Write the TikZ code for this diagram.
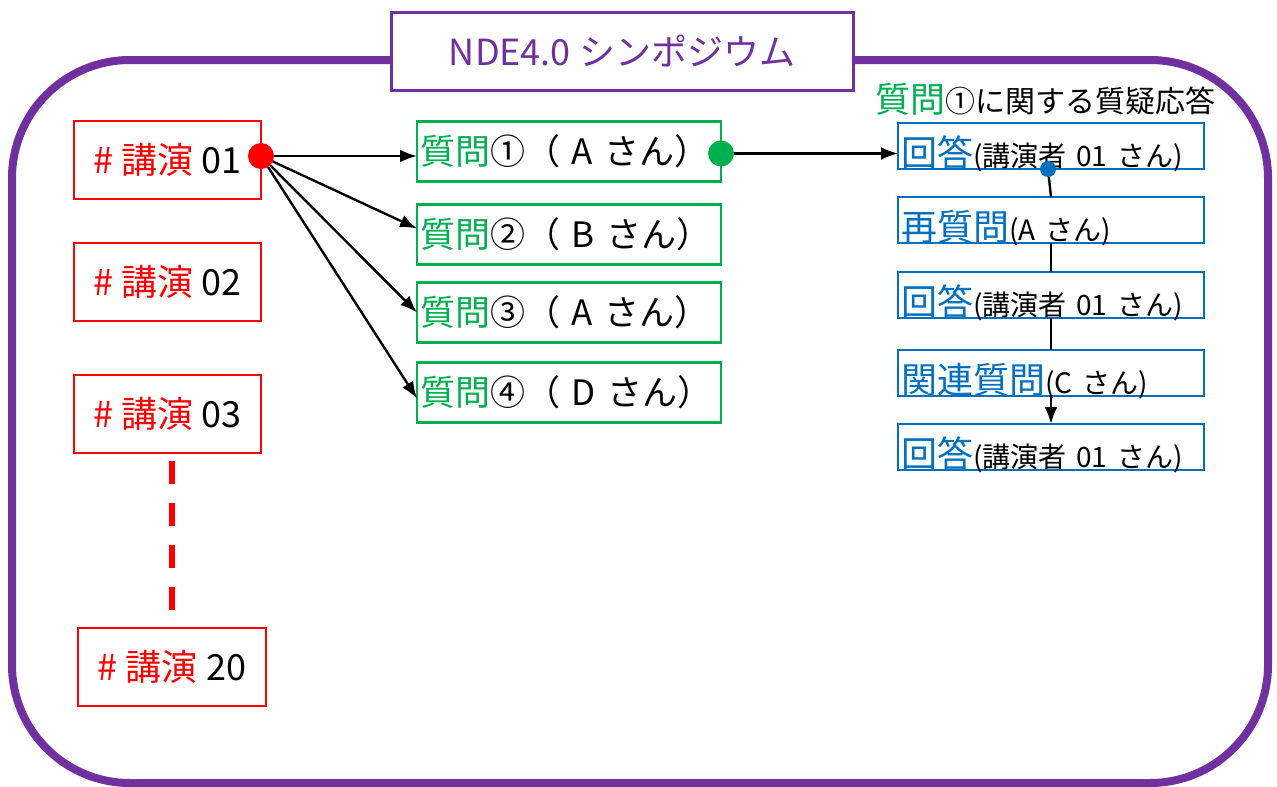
\documentclass[tikz,border=0pt]{standalone}
\usepackage{fontspec}
\setmainfont{Noto Sans CJK JP}
\usetikzlibrary{positioning,arrows.meta}
\definecolor{symppurple}{HTML}{7030A0}
\definecolor{talkred}{HTML}{FF0000}
\definecolor{qgreen}{HTML}{00B050}
\definecolor{ansblue}{HTML}{0070C0}
\tikzstyle{talk}=[rectangle,draw=talkred,line width=2.5pt,outer sep=0pt,
minimum width=187pt,minimum height=78pt,inner sep=0pt,font=\fontsize{36pt}{40pt}\selectfont]
\tikzstyle{question}=[rectangle,draw=qgreen,line width=2.5pt,outer sep=0pt,minimum height=60pt,
text width=298pt,inner xsep=3pt,inner ysep=0pt,align=left,font=\fontsize{35pt}{40pt}\selectfont]
\tikzstyle{answer}=[rectangle,draw=ansblue,line width=2.5pt,outer sep=0pt,text width=300pt,
inner xsep=3pt,inner ysep=0pt,text height=43pt,text depth=3pt,align=left]
\tikzstyle{dot}=[circle,inner sep=0pt,outer sep=0pt]
\tikzstyle{link}=[-{Latex[length=17pt,width=13pt]},line width=2.4pt]
\tikzstyle{plainlink}=[line width=2.4pt]
\newcommand{\talkno}[1]{\textcolor{talkred}{\# 講演} #1}
\newcommand{\quest}[1]{\textcolor{qgreen}{質問}#1}
\newcommand{\reply}[2]{{\fontsize{36pt}{40pt}\selectfont\textcolor{ansblue}{#1}}{\fontsize{28pt}{32pt}\selectfont #2}}
\newcommand{\wsp}{\hspace{0.35em}}

\begin{document}
\begin{tikzpicture}[x=1pt,y=-1pt]
            \useasboundingbox (0,0) rectangle (1277,787);

            % frame and title
            \draw[symppurple,line width=8pt,rounded corners=118pt] (12,60) rectangle (1268,783);
            \node[rectangle,draw=symppurple,line width=3pt,fill=white,minimum width=462pt,
                  minimum height=78pt,text=symppurple,font=\fontsize{36pt}{40pt}\selectfont] (title) at (622,51) {NDE4.0 シンポジウム};

            % TALKS
            \node[talk] (r1) at (167.5,160) {\talkno{01}};
            \node[talk,below=44pt of r1] (r2) {\talkno{02}};
            \node[talk,below=54pt of r2] (r3) {\talkno{03}};
            \node[talk,minimum width=188pt] (r20) at (172,667) {\talkno{20}};

            \coordinate (gaptop) at (r20.north |- r3.south);
            \draw[talkred,line width=6pt,dash pattern=on 23pt off 19pt] ([yshift=-8pt]gaptop) -- ([yshift=18pt]r20.north);

            % QUESTIONS
            \node[question] (q1) at (569,151.5) {\quest{①（ A さん）}};
            \node[question,below=23pt of q1] (q2) {\quest{②（ B さん）}};
            \node[question,below=18pt of q2] (q3) {\quest{③（ A さん）}};
            \node[question,below=20pt of q3] (q4) {\quest{④（ D さん）}};

            % ANSWERS
            \node[anchor=base west,font=\fontsize{30pt}{34pt}\selectfont] (head) at (872,112)
                 {{\fontsize{35pt}{40pt}\selectfont\textcolor{qgreen}{質問}}①に関する質疑応答};
            \node[answer,anchor=north west] (a1) at (898,123) {\reply{回答}{(講演者\wsp 01\wsp さん)}};
            \node[answer,below=28pt of a1] (a2) {\reply{再質問}{(A\wsp さん)}};
            \node[answer,below=29pt of a2] (a3) {\reply{回答}{(講演者\wsp 01\wsp さん)}};
            \node[answer,below=32pt of a3] (a4) {\reply{関連質問}{(C\wsp さん)}};
            \node[answer,below=28pt of a4] (a5) {\reply{回答}{(講演者\wsp 01\wsp さん)}};

            % dots
            \node[dot,fill=talkred,minimum size=26pt] (rdot) at ([yshift=4pt]r1.east) {};
            \node[dot,fill=qgreen,minimum size=26pt] (gdot) at ([yshift=-2pt]q1.east) {};
            \node[dot,fill=ansblue,minimum size=16pt] (bdot) at ([xshift=-3pt]a1.south) {};

            \path[link] (rdot) edge node {} (rdot -| q1.west);
            \path[link] (rdot) edge node {} ([yshift=6pt]q2.west);
            \path[link] (rdot) edge node {} (q3.west);
            \path[link] (rdot) edge node {} ([yshift=-6pt]q4.west);

            \path[link] (gdot) edge node {} (gdot -| a1.west);

            \path[plainlink] (bdot) edge node {} (a2.north);
            \path[plainlink] (a2.south) edge node {} (a3.north);
            \path[plainlink] (a3.south) edge node {} (a4.north);
            \path[link] (a4.south) edge node {} (a5.north);

\end{tikzpicture}
\end{document}
